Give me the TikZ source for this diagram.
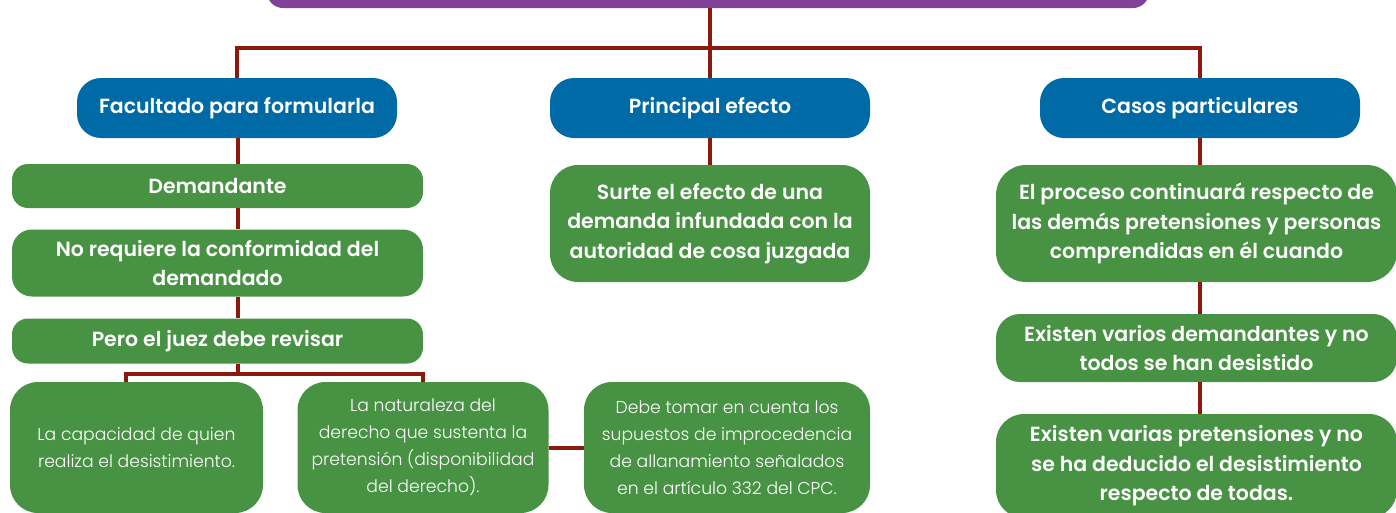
\documentclass[tikz,border=0pt]{standalone}
\usepackage{fontspec}
\setmainfont{Poppins}[BoldFont={Poppins SemiBold}]
\newfontfamily\ligera{Poppins Light}
\definecolor{morado}{RGB}{127,66,152}
\definecolor{azul}{RGB}{0,106,167}
\definecolor{verde}{RGB}{72,146,68}
\definecolor{guinda}{RGB}{140,24,14}
\tikzset{
  caja/.style={rounded corners=24pt, inner sep=0pt, text=white, align=center, font=\bfseries\fontsize{20.5}{29.5}\selectfont},
  titulo/.style={caja, fill=azul, minimum width=320pt, minimum height=60pt},
  hoja/.style={caja, fill=verde},
  fina/.style={hoja, rounded corners=28pt, font=\ligera\fontsize{17.2}{27}\selectfont},
  enlace/.style={draw=guinda, line width=4pt},
}
\begin{document}
\begin{tikzpicture}[x=1pt, y=-1pt]

  % 固定画布
  \useasboundingbox (0,0) rectangle (1396,512);

  %% ════ 顶部（被裁掉的紫色标题条）════
  \node[fill=morado, rounded corners=16pt, minimum width=882pt, minimum height=60pt] (raiz) at (708,-22) {};

  %% ════ 三个蓝色标题 ════
  \node[titulo] (fac)  at (237,108)  {Facultado para formularla};
  \node[titulo] (prin) at (710,108)  {Principal efecto};
  \node[titulo] (cas)  at (1200,108) {Casos particulares};

  %% ════ 左列 ════
  \node[hoja, rounded corners=16pt, minimum width=411pt, minimum height=44pt] (dem) at (217.5,186) {Demandante};
  \node[hoja, rounded corners=20pt, minimum width=411pt, minimum height=67pt] (noreq) at (217.5,263) {No requiere la conformidad del\\demandado};
  \node[hoja, rounded corners=16pt, minimum width=411pt, minimum height=45pt] (pero) at (217.5,341) {Pero el juez debe revisar};
  \node[fina, minimum width=253pt, minimum height=131pt] (cap) at (136.5,447.5) {La capacidad de quien\\realiza el desistimiento.};
  \node[fina, minimum width=251pt, minimum height=131pt] (nat) at (423,447.5) {La naturaleza del\\derecho que sustenta la\\pretensión (disponibilidad\\del derecho).};
  \node[fina, minimum width=286pt, minimum height=131pt] (debe) at (727,447.5) {Debe tomar en cuenta los\\supuestos de improcedencia\\de allanamiento señalados\\en el artículo 332 del CPC.};

  %% ════ 中列 ════
  \node[hoja, rounded corners=28pt, minimum width=320pt, minimum height=117pt] (surte) at (710,223.5) {Surte el efecto de una\\demanda infundada con la\\autoridad de cosa juzgada};

  %% ════ 右列 ════
  \node[hoja, rounded corners=30pt, minimum width=401pt, minimum height=117pt] (proc) at (1196.5,223.5) {El proceso continuará respecto de\\las demás pretensiones y personas\\comprendidas en él cuando};
  \node[hoja, rounded corners=24pt, minimum width=401pt, minimum height=68pt] (varios) at (1196.5,348) {Existen varios demandantes y no\\todos se han desistido};
  \node[hoja, rounded corners=28pt, minimum width=401pt, minimum height=104pt] (pret) at (1196.5,466) {Existen varias pretensiones y no\\se ha deducido el desistimiento\\respecto de todas.};

  %% ════ 连线 ════
  \coordinate (barra) at (709,48);
  \coordinate (eje) at (238,0);
  \coordinate (horq) at (238,374);
  \draw[enlace] (prin.north |- raiz.south) -- (prin.north);
  \draw[enlace] (fac.north) -- (fac.north |- barra) -- (cas.north |- barra) -- (cas.north);
  \draw[enlace] (prin.south) -- (surte.north);
  \draw[enlace] (eje |- fac.south) -- (eje |- dem.north);
  \draw[enlace] (eje |- dem.south) -- (eje |- noreq.north);
  \draw[enlace] (eje |- noreq.south) -- (eje |- pero.north);
  \draw[enlace] (eje |- pero.south) -- (horq);
  \draw[enlace] ([xshift=-10.5pt]cap.north) |- (horq) -| (nat.north);
  \draw[enlace] (nat.east) -- (debe.west);
  \draw[enlace] (cas.south) -- (cas.south |- proc.north);
  \draw[enlace] (cas.south |- proc.south) -- (cas.south |- varios.north);
  \draw[enlace] (cas.south |- varios.south) -- (cas.south |- pret.north);
\end{tikzpicture}
\end{document}
